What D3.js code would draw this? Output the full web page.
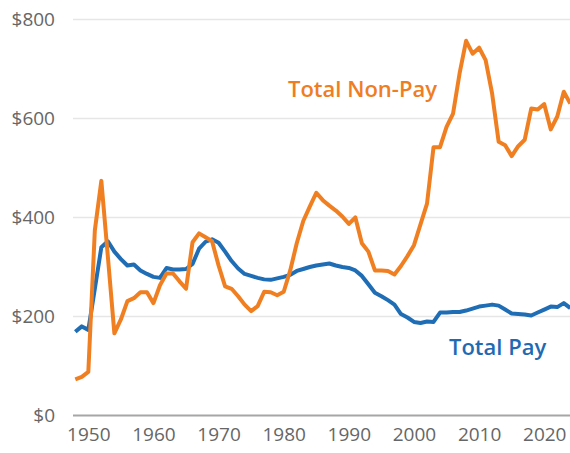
<!DOCTYPE html>
<html lang="en">
<head>
  <meta charset="utf-8">
  <title>Total Pay vs Total Non-Pay</title>
  <script src="https://d3js.org/d3.v7.min.js"></script>
  <style>
    body { margin: 0; background: white; }
    text { font-family: "Open Sans", sans-serif; }
  </style>
</head>
<body>
  <svg id="chart" width="570" height="453"></svg>
<script>
  // values
  var years = d3.range(1948, 2025);

  var totalPay = [
    168, 179, 172, 255, 339, 351, 330, 315, 302, 304,
    292, 285, 279, 277, 297, 294, 294, 295, 305, 336,
    350, 355, 348, 330, 311, 296, 285, 281, 277, 274,
    273, 276, 279, 283, 291, 295, 299, 302, 304, 306,
    302, 299, 297, 292, 281, 264, 247, 240, 232, 223,
    204, 197, 188, 186, 189, 188, 207, 207, 208, 208,
    211, 215, 219, 221, 223, 221, 213, 205, 204, 203,
    201, 207, 213, 219, 218, 226, 216
  ];

  var totalNonPay = [
    72, 77, 87, 373, 473, 320, 165, 193, 230, 236,
    248, 248, 226, 262, 286, 286, 270, 255, 349, 367,
    359, 351, 302, 260, 255, 240, 223, 210, 220, 249,
    248, 242, 249, 292, 347, 392, 421, 449, 434, 423,
    413, 401, 386, 399, 347, 330, 292, 292, 291, 284,
    301, 321, 343, 385, 427, 541, 541, 582, 609, 690,
    756, 730, 742, 717, 649, 552, 545, 523, 543, 556,
    619, 617, 628, 577, 603, 653, 629
  ];

  var yTicks = [0, 200, 400, 600, 800];
  var xTicks = [1950, 1960, 1970, 1980, 1990, 2000, 2010, 2020];

  var svg = d3.select("#chart");

  var x = d3.scaleLinear().domain([1948, 2024]).range([75.3, 570.3]);
  var y = d3.scaleLinear().domain([0, 800]).range([415, 19]);

  // gridlines + y labels
  var yAxis = svg.append("g")
    .attr("transform", "translate(73,0)")
    .call(d3.axisLeft(y).tickValues(yTicks).tickSize(-497).tickPadding(18)
      .tickFormat(function(d) { return "$" + d; }));
  yAxis.select(".domain").remove();
  yAxis.selectAll(".tick line")
    .attr("stroke", function(d) { return d === 0 ? "#a6a6a6" : "#e6e6e6"; })
    .attr("stroke-width", function(d) { return d === 0 ? 2 : 1.5; });
  yAxis.selectAll(".tick text")
    .attr("fill", "#666")
    .attr("font-size", "19px")
    .attr("font-family", "Open Sans, sans-serif");

  // x labels
  var xAxis = svg.append("g")
    .attr("transform", "translate(0,415)")
    .call(d3.axisBottom(x).tickValues(xTicks).tickSize(0).tickPadding(13)
      .tickFormat(d3.format("d")));
  xAxis.select(".domain").remove();
  xAxis.selectAll(".tick text")
    .attr("fill", "#666")
    .attr("font-size", "19px")
    .attr("font-family", "Open Sans, sans-serif");

  var line = d3.line()
    .x(function(d) { return x(d[0]); })
    .y(function(d) { return y(d[1]); });

  svg.append("path")
    .datum(years.map(function(yr, i) { return [yr, totalPay[i]]; }))
    .attr("fill", "none")
    .attr("stroke", "#1f6db5")
    .attr("stroke-width", 4)
    .attr("stroke-linejoin", "round")
    .attr("d", line);

  svg.append("path")
    .datum(years.map(function(yr, i) { return [yr, totalNonPay[i]]; }))
    .attr("fill", "none")
    .attr("stroke", "#f07f22")
    .attr("stroke-width", 4)
    .attr("stroke-linejoin", "round")
    .attr("d", line);

  svg.append("text")
    .attr("x", 288)
    .attr("y", 97)
    .attr("font-size", "22px")
    .attr("font-weight", 600)
    .attr("fill", "#ef7d22")
    .text("Total Non-Pay");

  svg.append("text")
    .attr("x", 449)
    .attr("y", 355)
    .attr("font-size", "22px")
    .attr("font-weight", 600)
    .attr("fill", "#1f6ab3")
    .text("Total Pay");
</script>
</body>
</html>
